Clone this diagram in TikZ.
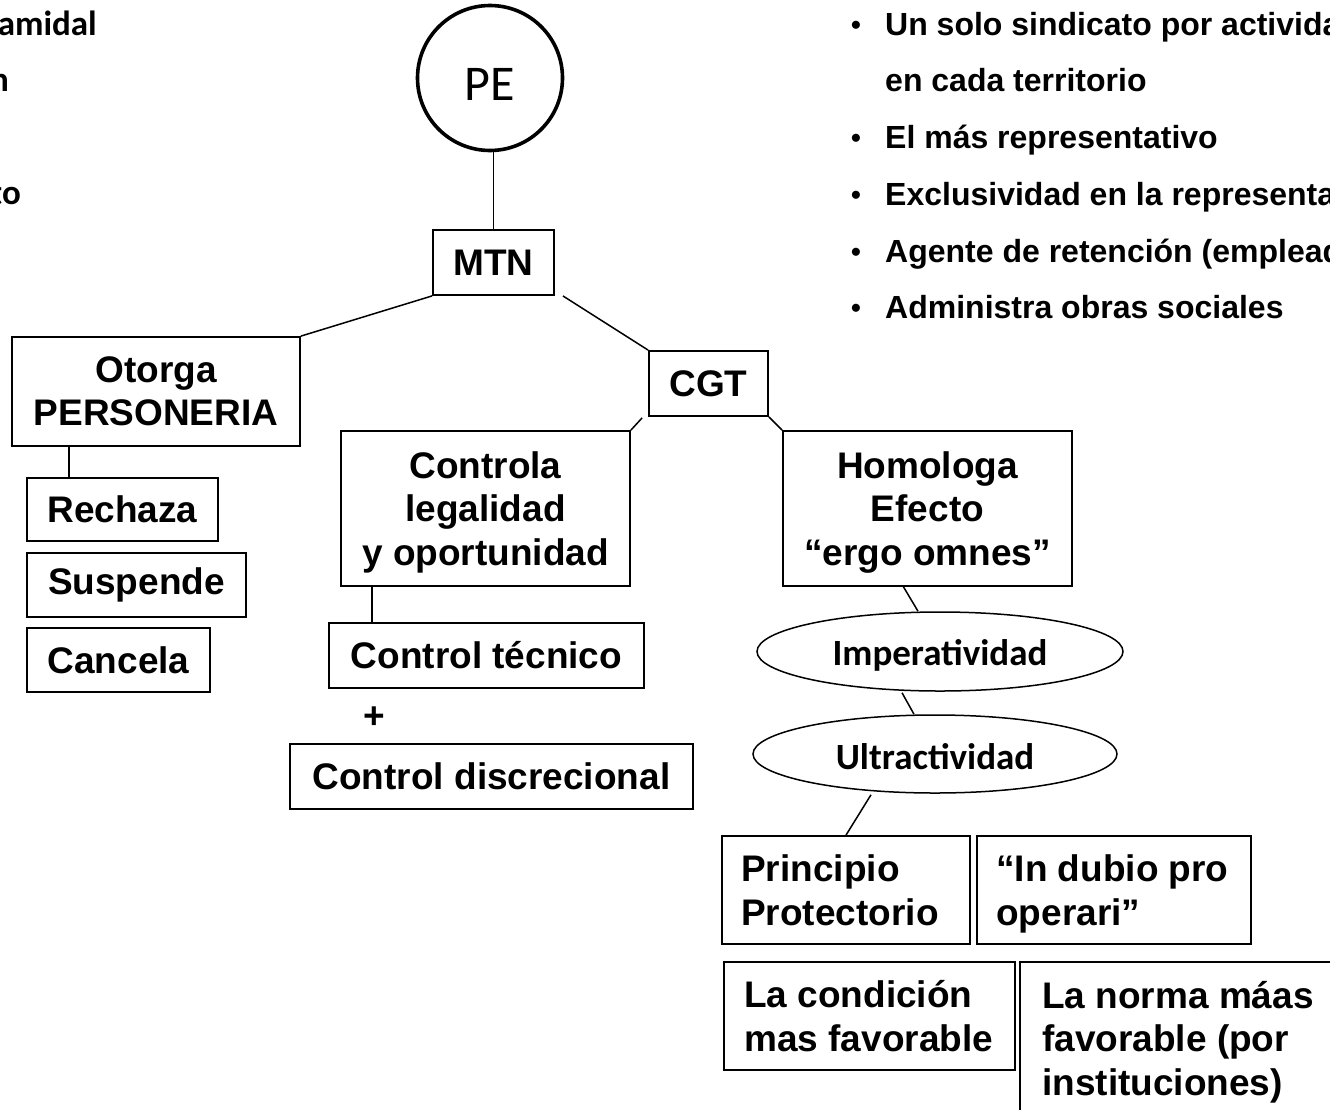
\documentclass[tikz,border=0pt]{standalone}
\usepackage{fontspec}
\setmainfont{Liberation Sans}
\newfontfamily\calib{Carlito}
\usetikzlibrary{shapes.geometric}
\begin{document}
\begin{tikzpicture}[x=1pt,y=-1pt,
  boxfont/.style={font=\bfseries\fontsize{37}{43.5}\selectfont},
  box/.style={draw, line width=1.8pt, inner sep=0pt, boxfont, align=center},
  ebox/.style={draw, line width=1.8pt, inner sep=0pt},
  ltext/.style={anchor=west, inner sep=0pt, text depth=0pt, boxfont, align=left},
  oval/.style={draw, ellipse, line width=1.5pt, inner sep=0pt},
  ovaltext/.style={inner sep=0pt, font=\calib\bfseries\fontsize{37}{40}\selectfont},
  conn/.style={line width=1.5pt},
  bul/.style={anchor=base west, inner sep=0pt, font=\bfseries\fontsize{32}{38}\selectfont},
  bdot/.style={anchor=base, inner sep=0pt, font=\bfseries\fontsize{28}{32}\selectfont},
  side/.style={anchor=base east, inner sep=0pt, font=\calib\bfseries\fontsize{35}{40}\selectfont}
]
\useasboundingbox (0,0) rectangle (1330,1109);
\clip (0,0) rectangle (1330,1109);

% top-left cut text
\node[side] (s1) at (97,35) {amidal};
\node[side] (s2) at (9,91) {n};
\node[side] (s3) at (21,204) {to};

% bullets top-right
\node[bdot] (d1) at (856,34) {•};
\node[bul] (t1) at (885,35) {Un solo sindicato por activida};
\node[bul] (t2) at (885,91) {en cada territorio};
\node[bdot] (d3) at (856,147) {•};
\node[bul] (t3) at (885,148) {El más representativo};
\node[bdot] (d4) at (856,204) {•};
\node[bul] (t4) at (885,205) {Exclusividad en la representa};
\node[bdot] (d5) at (856,261) {•};
\node[bul] (t5) at (885,262) {Agente de retención (emplead};
\node[bdot] (d6) at (856,317) {•};
\node[bul] (t6) at (885,318) {Administra obras sociales};

% tree
\node[circle, draw, line width=3.6pt, minimum size=145pt, inner sep=0pt, text height=44pt, text depth=0pt, font=\calib\fontsize{50}{50}\selectfont] (PE) at (490,78) {PE};
\node[box, minimum width=121pt, minimum height=65pt] (MTN) at (493.5,262.5) {MTN};
\node[box, minimum width=288pt, minimum height=109pt] (oto) at (156,391.5) {Otorga\\PERSONERIA};
\node[box, minimum width=191pt, minimum height=63pt] (rech) at (122.5,509.5) {Rechaza};
\node[box, minimum width=219pt, minimum height=64pt] (susp) at (136.5,585) {Suspende};
\node[box, minimum width=183pt, minimum height=64pt] (canc) at (118.5,660) {Cancela};
\node[box, minimum width=119pt, minimum height=65pt] (CGT) at (708.5,383.5) {CGT};
\node[box, text depth=0pt, minimum width=289pt, minimum height=155pt] (ctrl) at (485.5,508.5) {Controla\\legalidad\\y oportunidad};
\node[box, text depth=0pt, minimum width=289pt, minimum height=155pt] (homo) at (927.5,508.5) {Homologa\\Efecto\\“ergo omnes”};
\node[box, minimum width=315pt, minimum height=65pt] (tec) at (486.5,655.5) {Control técnico};
\node[boxfont, inner sep=0pt] (plus) at (374,718) {+};
\node[box, minimum width=403pt, minimum height=65pt] (disc) at (491.5,776.5) {Control discrecional};

\node[oval, minimum width=366pt, minimum height=79pt] (imp) at (940,651.5) {};
\node[ovaltext] (impT) at (940,655) {Imperatividad};
\node[oval, minimum width=364pt, minimum height=78pt] (ult) at (935,754) {};
\node[ovaltext] (ultT) at (935,757) {Ultractividad};

\node[ebox, minimum width=248pt, minimum height=108pt] (prin) at (846,890) {};
\node[ltext] (prinT) at ([xshift=20pt]prin.west) {Principio\\Protectorio};
\node[ebox, minimum width=274pt, minimum height=108pt] (dubio) at (1114,890) {};
\node[ltext] (dubioT) at ([xshift=20pt]dubio.west) {“In dubio pro\\operari”};
\node[ebox, minimum width=291pt, minimum height=108pt] (cond) at (869.5,1016) {};
\node[ltext] (condT) at ([xshift=21pt]cond.west) {La condición\\mas favorable};
\node[ebox, minimum width=400pt, minimum height=152pt] (norma) at (1220,1038) {};
\node[ltext] (normaT) at ([xshift=23pt]norma.west) {La norma máas\\favorable (por\\instituciones)};

% connectors
\draw[conn] (MTN.north |- PE.south) -- (MTN.north);
\draw[conn] (MTN.south west) -- (oto.north east);
\draw[conn] ([xshift=8pt]MTN.south east) -- (CGT.north west);
\draw[conn] ([xshift=-6pt,yshift=-1pt]CGT.south west) -- (ctrl.north east);
\draw[conn] (CGT.south east) -- (homo.north west);
\draw[conn] ([xshift=43pt]rech.north west) -- ([xshift=43pt]rech.north west |- oto.south);
\draw[conn] ([xshift=44pt]tec.north west) -- ([xshift=44pt]tec.north west |- ctrl.south);
\draw[conn] ([xshift=-24pt]homo.south) -- ([xshift=-22pt]imp.north);
\draw[conn] ([xshift=-38pt,yshift=-1pt]imp.south) -- ([xshift=-21pt]ult.north);
\draw[conn] ([xshift=-64pt,yshift=-1pt]ult.south) -- (prin.north);
\end{tikzpicture}
\end{document}
